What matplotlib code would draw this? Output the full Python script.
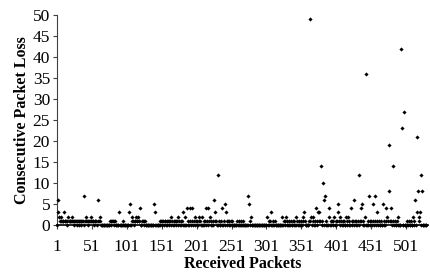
import matplotlib.pyplot as plt
import numpy as np

plt.rcParams['font.family'] = ['Liberation Serif', 'DejaVu Serif']

n_packets = 530

# packets that lost exactly one / two in a row
ones_idx = [5, 6, 8, 9, 10, 12, 13, 14, 15, 18, 19, 20, 21, 22, 24, 25, 27, 28, 30, 31,
            33, 34, 36, 37, 38, 41, 42, 44, 45, 47, 48, 49, 51, 52, 53, 55, 56, 57, 60, 61,
            63, 77, 78, 80, 81, 83, 84, 95, 109, 110, 112, 113, 115, 116, 118, 119, 123,
            124, 126, 127, 148, 150, 151, 153, 155, 156, 158, 160, 161, 163, 166, 168, 170,
            171, 173, 176, 178, 180, 187, 189, 192, 194, 197, 200, 202, 204, 206, 211, 213,
            216, 219, 222, 224, 228, 229, 231, 233, 236, 240, 244, 246, 248, 250, 252, 259,
            262, 265, 268, 277, 304, 306, 310, 313, 326, 328, 331, 333, 336, 339, 341,
            345, 348, 350, 353, 356, 362, 364, 367, 370, 373, 376, 378, 381, 384, 387, 393,
            395, 397, 400, 402, 405, 408, 410, 412, 417, 420, 423, 425, 428, 430, 432,
            435, 437, 440, 446, 449, 451, 454, 456, 459, 462, 465, 470, 473, 475, 478, 480,
            482, 485, 488, 502, 505, 508, 513, 520]
twos_idx = [4, 7, 17, 23, 43, 50, 62, 108, 114, 117, 165, 175, 184, 199, 205, 208, 220,
            279, 302, 324, 329, 344, 354, 365, 368, 390, 398, 407, 415, 418, 442, 474,
            489, 511, 519]
spike_idx = [2, 3, 11, 40, 59, 90, 104, 105, 120, 140, 141, 181, 187, 191, 195, 214, 218,
             226, 227, 231, 238, 242, 243, 274, 276, 308, 355, 363, 372, 375, 377, 379, 382,
             384, 385, 391, 403, 404, 422, 427, 434, 436, 438, 443, 448, 453, 457, 460, 468,
             472, 476, 477, 479, 483, 494, 495, 498, 514, 516, 517, 518, 521, 522, 524]
spike_val = [3, 6, 3, 7, 6, 3, 3, 5, 4, 5, 3, 3, 4, 4, 4, 4, 4,
             6, 3, 12, 4, 5, 3, 7, 5, 3, 3, 49, 4, 3, 3, 14, 10,
             6, 7, 4, 5, 3, 4, 6, 12, 4, 5, 36, 7, 5, 7, 3, 5,
             4, 19, 8, 4, 14, 42, 23, 27, 6, 3, 21, 8, 3, 12, 8]

loss = np.zeros(n_packets)
loss[np.array(ones_idx) - 1] = 1
loss[np.array(twos_idx) - 1] = 2
loss[np.array(spike_idx) - 1] = spike_val
packets = np.arange(1, n_packets + 1)

fig = plt.figure(figsize=(4.3, 2.74), dpi=100)
ax = fig.add_axes([0.1326, 0.179, 0.862, 0.766])

ax.scatter(packets, loss, s=4.5, c='black', marker='D', linewidths=0, clip_on=False, zorder=3)

ax.set_xlim(1, 532)
ax.set_ylim(0, 50)
ax.set_yticks(range(0, 51, 5))
ax.set_xticks(range(1, 502, 50))
ax.tick_params(axis='both', direction='out', length=3, width=0.8, labelsize=12.5, pad=2,
               color='#404040')
ax.tick_params(axis='x', pad=7)

for s in ['top', 'right']:
    ax.spines[s].set_visible(False)
ax.spines['left'].set_color('#404040')
ax.spines['bottom'].set_color('black')
ax.spines['bottom'].set_linewidth(1.2)

ax.set_xlabel('Received Packets', fontsize=11.5, fontweight='bold', labelpad=1)
ax.set_ylabel('Consecutive Packet Loss', fontsize=11.5, fontweight='bold', labelpad=2)

fig.savefig('out.png', dpi=100)
